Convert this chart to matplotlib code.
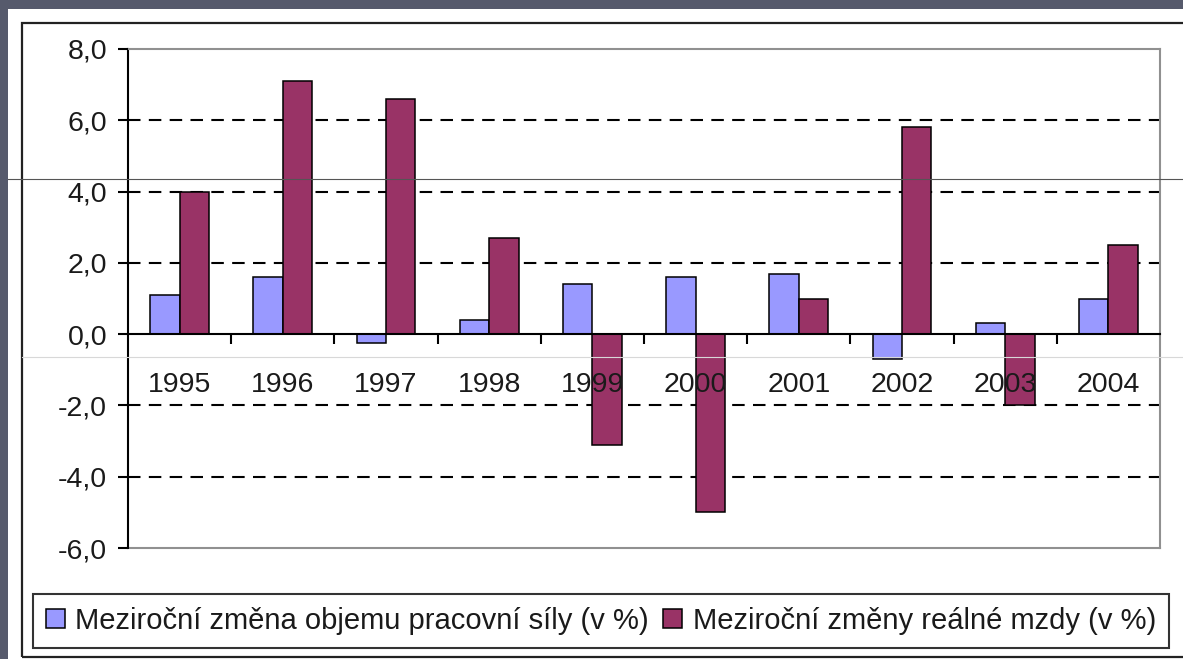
import numpy as np
import matplotlib.pyplot as plt
from matplotlib.patches import Rectangle, Patch
from matplotlib.lines import Line2D
from matplotlib.ticker import FixedLocator, FuncFormatter

# ============================================================
# Data
# ============================================================

years = ["1995", "1996", "1997", "1998", "1999", "2000", "2001", "2002", "2003", "2004"]
labour_change = [1.1, 1.6, -0.25, 0.4, 1.4, 1.6, 1.7, -0.7, 0.3, 1.0]
wage_change = [4.0, 7.1, 6.6, 2.7, -3.1, -5.0, 1.0, 5.8, -2.0, 2.5]

series_names = [
    "Meziroční změna objemu pracovní síly (v %)",
    "Meziroční změny reálné mzdy (v %)",
]

BLUE = "#9999FF"
MAROON = "#993366"
BG = "#565a6c"
TEXT = "#1a1a1a"

plt.rcParams["font.family"] = ["Liberation Sans", "DejaVu Sans"]
FS = 20.5

W, H = 1183, 659
fig = plt.figure(figsize=(W / 100, H / 100), dpi=100, facecolor=BG)

# white slide area + outer chart border
fig.add_artist(Rectangle((8 / W, 0), 1.0, (H - 9) / H, transform=fig.transFigure,
                         facecolor="white", edgecolor="none", zorder=0))
fig.add_artist(Rectangle((22 / W, (H - 657) / H), 1.2, (657 - 23) / H,
                         transform=fig.transFigure, facecolor="none",
                         edgecolor="#222222", lw=1.6, zorder=1))

# plot area
ax = fig.add_axes([128 / W, (H - 548) / H, (1160 - 128) / W, (548 - 49) / H])
ax.set_facecolor("white")
ax.set_axisbelow(False)

x = np.arange(len(years))
w = 0.2857
ax.bar(x - w / 2, labour_change, w, color=BLUE, edgecolor="black", lw=1.1, zorder=2)
ax.bar(x + w / 2, wage_change, w, color=MAROON, edgecolor="black", lw=1.1, zorder=2)

ax.set_xlim(-0.5, len(years) - 0.5)
ax.set_ylim(-6, 8)

# dashed gridlines
for gy in [-4, -2, 2, 4, 6]:
    ax.axhline(gy, color="black", lw=1.5, ls=(0, (6, 4)), zorder=1)

# spines
for side in ["top", "right"]:
    ax.spines[side].set_color("#909090")
    ax.spines[side].set_linewidth(1.5)
ax.spines["left"].set_color("black")
ax.spines["left"].set_linewidth(1.5)
ax.spines["bottom"].set_position(("data", 0))
ax.spines["bottom"].set_color("black")
ax.spines["bottom"].set_linewidth(1.5)
ax.spines["bottom"].set_zorder(3)
ax.axhline(-6, color="#909090", lw=1.5, clip_on=False)

# y axis
ax.set_yticks(np.arange(-6, 9, 2))
ax.yaxis.set_major_formatter(FuncFormatter(lambda v, p: f"{v:.1f}".replace(".", ",")))
ax.tick_params(axis="y", direction="out", length=7, width=1.5, pad=8,
               labelsize=FS, labelcolor=TEXT, color="black")

# x axis: labels at centres, ticks at category boundaries
ax.set_xticks(x)
ax.set_xticklabels(years)
ax.xaxis.set_minor_locator(FixedLocator(np.arange(0.5, len(years) - 0.5, 1.0)))
ax.tick_params(axis="x", which="major", length=0, pad=27, labelsize=FS, labelcolor=TEXT)
ax.tick_params(axis="x", which="minor", direction="out", length=7, width=1.5, color="black")

# legend
handles = [Patch(facecolor=BLUE, edgecolor="black", lw=1.1),
           Patch(facecolor=MAROON, edgecolor="black", lw=1.1)]
leg = fig.legend(handles, series_names, loc="center", ncol=2,
                 bbox_to_anchor=(601 / W, (H - 621) / H), fontsize=21,
                 frameon=True, fancybox=False, edgecolor="black",
                 handlelength=0.65, handleheight=0.65, handletextpad=0.35,
                 columnspacing=0.5, borderpad=0.45, borderaxespad=0)
leg.get_frame().set_linewidth(1.5)
for t in leg.get_texts():
    t.set_color(TEXT)

# faint slide background lines crossing the picture
fig.add_artist(Line2D([8 / W, 1], [(H - 179) / H] * 2, transform=fig.transFigure,
                      color="#555555", lw=0.8, zorder=10))
fig.add_artist(Line2D([22 / W, 1], [(H - 357) / H] * 2, transform=fig.transFigure,
                      color="#d8d8d8", lw=0.8, zorder=10))

fig.savefig("out.png", dpi=100, facecolor=BG)
